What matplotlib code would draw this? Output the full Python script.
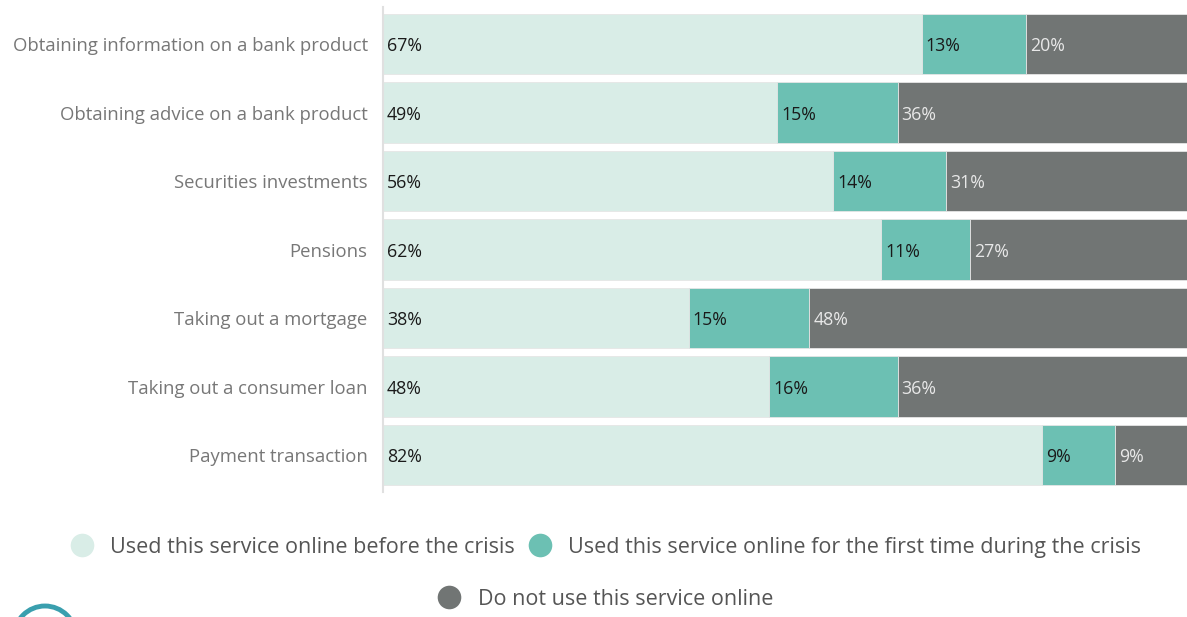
import matplotlib
matplotlib.use("Agg")
import matplotlib.pyplot as plt
from matplotlib.patches import Circle
from matplotlib.lines import Line2D

categories = [
    "Obtaining information on a bank product",
    "Obtaining advice on a bank product",
    "Securities investments",
    "Pensions",
    "Taking out a mortgage",
    "Taking out a consumer loan",
    "Payment transaction",
]
before_crisis = [67, 49, 56, 62, 38, 48, 82]
first_time = [13, 15, 14, 11, 15, 16, 9]
not_online = [20, 36, 31, 27, 48, 36, 9]

series_names = [
    "Used this service online before the crisis",
    "Used this service online for the first time during the crisis",
    "Do not use this service online",
]
colors = ["#d9ede7", "#6cc0b3", "#717574"]
text_colors = ["#1a1a1a", "#1a1a1a", "#e8e8e8"]

plt.rcParams["font.family"] = ["Open Sans", "DejaVu Sans"]

W, H = 1187, 617
fig = plt.figure(figsize=(W / 100, H / 100), dpi=100)
fig.patch.set_facecolor("white")

ax_left = 383 / W
ax_bottom = 1 - 492 / H
ax_top = 1 - 7 / H
ax = fig.add_axes([ax_left, ax_bottom, 1 - ax_left, ax_top - ax_bottom])

pitch = 68.5
y0 = 44
ax.set_ylim((492 - y0) / pitch, (7 - y0) / pitch)
ax.set_xlim(0, 100)

ys = list(range(len(categories)))
left = [0] * len(categories)
for vals, col, tcol in zip([before_crisis, first_time, not_online], colors, text_colors):
    ax.barh(ys, vals, left=left, height=0.89, color=col,
            edgecolor="#e6e6e6", linewidth=0.6, zorder=2)
    for y, l, v in zip(ys, left, vals):
        ax.text(l + 0.5, y, f"{v}%", va="center_baseline", ha="left",
                fontsize=12.8, color=tcol, zorder=3)
    left = [a + b for a, b in zip(left, vals)]

ax.set_yticks(ys)
ax.set_yticklabels(categories, fontsize=13.3, color="#777777",
                   va="center_baseline")
ax.tick_params(axis="y", length=0, pad=11)
ax.set_xticks([])
for side in ["top", "right", "bottom"]:
    ax.spines[side].set_visible(False)
ax.spines["left"].set_color("#e0e0e0")
ax.spines["left"].set_linewidth(1.5)
ax.set_facecolor("none")


def fx(px):
    return px / W


def fy(py):
    return 1 - py / H


legend_items = [
    (82, 545, 110, 0),
    (540, 545, 568, 1),
    (449, 597, 478, 2),
]
for mx, my, tx, i in legend_items:
    fig.add_artist(Line2D([fx(mx)], [fy(my)], marker="o", markersize=17,
                          color=colors[i], markeredgewidth=0,
                          transform=fig.transFigure))
    fig.text(fx(tx), fy(my), series_names[i], fontsize=15.5, color="#555555",
             va="center_baseline", ha="left")

fig.add_artist(Circle((45, H - 637), 31, transform=None, fill=False,
                      edgecolor="#3a9fae", linewidth=3.5))

fig.savefig("out.png", dpi=100, facecolor="white")
